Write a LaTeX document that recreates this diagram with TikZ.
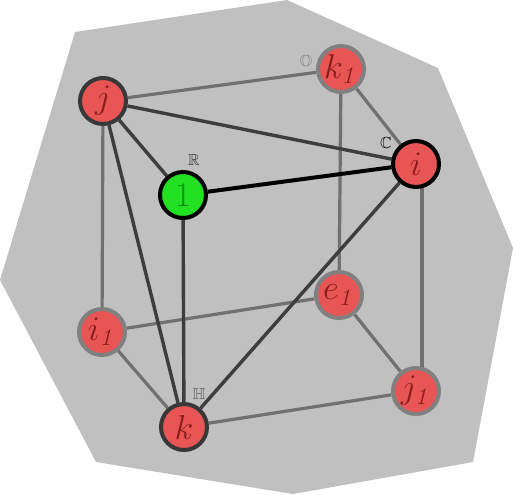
\documentclass[tikz,border=0pt]{standalone}
\usepackage{amssymb}
\usetikzlibrary{backgrounds}
\pgfdeclarelayer{edges}
\pgfsetlayers{background,edges,main}
\definecolor{unitred}{HTML}{E85555}
\definecolor{unittext}{HTML}{8B1C1C}
\definecolor{onegreen}{HTML}{22E022}
\definecolor{onetext}{HTML}{148C14}
\definecolor{hullgray}{HTML}{C0C0C0}
\begin{document}
\begin{tikzpicture}[x=0.5pt, y=-0.5pt,
    unit/.style={circle, draw=black!78, line width=2pt, fill=unitred, text=unittext,
        minimum size=23pt, inner sep=0pt, font=\LARGE},
    backunit/.style={unit, draw=black!50},
    frontedge/.style={draw=black!76, line width=1.7pt},
    backedge/.style={draw=black!56, line width=1.6pt},
    tag/.style={font=\footnotesize, inner sep=0pt}]
    \useasboundingbox (0,0) rectangle (513,494);
    % back of the cube
    \node[backunit] (k1) at (341,69) {$k_{\mathit{1}}$};
    \node[backunit] (e1) at (339,295) {$e_{\mathit{1}}$};
    \node[backunit] (i1) at (102,332) {$i_{\mathit{1}}$};
    \node[backunit] (j1) at (416,391) {$j_{\mathit{1}}$};
    % front
    \node[unit] (j) at (103,101) {$j$};
    \node[unit, draw=black] (i) at (416,164) {$i$};
    \node[unit] (k) at (184,427) {$k$};
    \node[unit, draw=black, fill=onegreen, text=onetext] (one) at (183,195) {$1$};
    % the four algebras
    \node[tag, text=black!50] (tagO) at (306,62) {$\mathbb{O}$};
    \node[tag, text=black] (tagC) at (386,143) {$\mathbb{C}$};
    \node[tag, text=black!80] (tagR) at (194,160) {$\mathbb{R}$};
    \node[tag, text=black!65] (tagH) at (199,394) {$\mathbb{H}$};
    \begin{pgfonlayer}{edges}
        \foreach \a/\b in {j/k1, k1/e1, k1/i, j/i1, i1/e1, i1/k, e1/j1, k/j1}
            \draw[backedge] (\a) -- (\b);
        \draw[backedge] ([xshift=3pt]i.center) -- ([xshift=3pt]j1.center);
        \foreach \a/\b in {j/i, j/one, j/k, one/k, i/k}
            \draw[frontedge] (\a) -- (\b);
        \draw[line width=2pt] (one) -- (i);
    \end{pgfonlayer}
    \begin{pgfonlayer}{background}
        \fill[hullgray] (75,32) -- (287,0) -- (438,68) -- (513,248) -- (473,462)
            -- (293,494) -- (96,462) -- (0,280) -- cycle;
    \end{pgfonlayer}
\end{tikzpicture}
\end{document}
